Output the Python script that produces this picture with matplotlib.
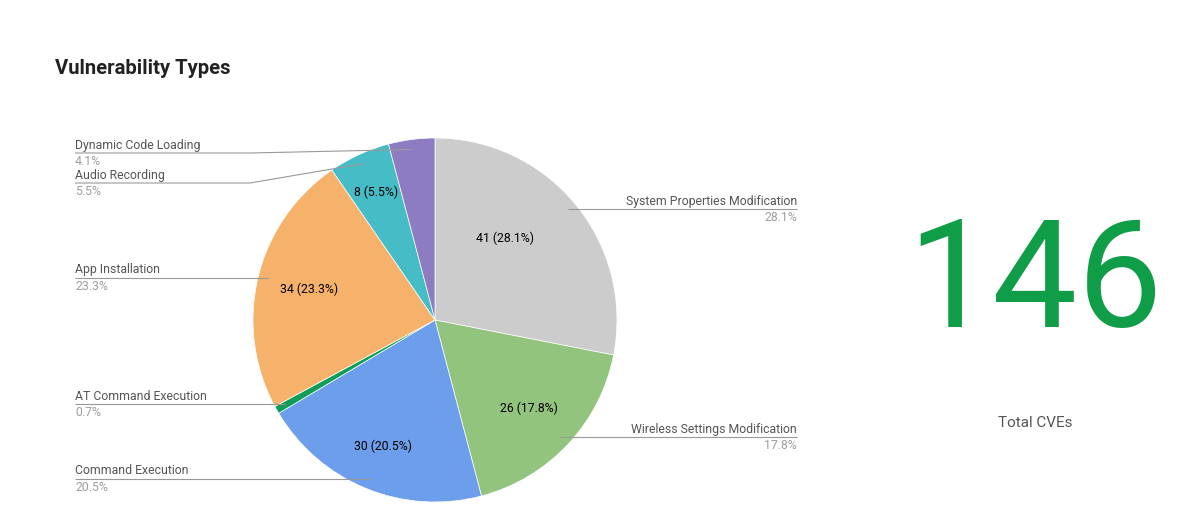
import numpy as np
import matplotlib
matplotlib.use("Agg")
from matplotlib import pyplot as plt

plt.rcParams['font.family'] = ['Roboto', 'DejaVu Sans']

# data
categories = [
    'System Properties Modification',
    'Wireless Settings Modification',
    'Command Execution',
    'AT Command Execution',
    'App Installation',
    'Audio Recording',
    'Dynamic Code Loading',
]
counts = [41, 26, 30, 1, 34, 8, 6]
colors = ['#cccccc', '#93c47d', '#6d9eeb', '#0f9d58', '#f6b26b', '#46bdc6', '#8e7cc3']
total_label = 'Total CVEs'
title = 'Vulnerability Types'

# layout (pixel coords, y from top)
W, H = 1200, 520
cx, cy, R = 435, 320, 182
label_side = ['right', 'right', 'left', 'left', 'left', 'left', 'left']
label_line_y = [209, 437, 479, 404, 278, 183, 153]
inner_frac = [0.59, 0.71, 0.75, None, 0.71, 0.77, None]
inner_shift = [9.7, 0, 0, 0, 0, 0, 0]  # degrees, counterclockwise
leader_frac = 0.945

fig = plt.figure(figsize=(W / 100, H / 100), dpi=100)
ax = fig.add_axes([0, 0, 1, 1])


def py(y):
    return H - y


total = sum(counts)
wedges, _ = ax.pie(counts, colors=colors, startangle=90, counterclock=False,
                   center=(cx, py(cy)), radius=R, frame=True,
                   wedgeprops=dict(edgecolor='white', linewidth=0.5))
ax.set_xlim(0, W)
ax.set_ylim(0, H)
ax.set_aspect('equal')
ax.axis('off')

name_color = '#555555'
pct_color = '#9e9e9e'
fs = 8.8

for w, name, n, side, ly, frac, shift in zip(wedges, categories, counts,
                                             label_side, label_line_y,
                                             inner_frac, inner_shift):
    mid = np.deg2rad((w.theta1 + w.theta2) / 2)
    pct = n / total * 100
    px = cx + leader_frac * R * np.cos(mid)
    pyy = cy - leader_frac * R * np.sin(mid)
    if side == 'right':
        xs = [px, 797]
        ys = [ly, ly]
        tx, ha = 797, 'right'
    else:
        if abs(pyy - ly) > 3:
            xs = [75, 250, px]
            ys = [ly, ly, pyy]
        else:
            xs = [75, px]
            ys = [ly, ly]
        tx, ha = 75, 'left'
    ax.plot(xs, [py(v) for v in ys], color='#999999', lw=0.8,
            solid_capstyle='butt')
    ax.text(tx, py(ly) + 1.5, name, ha=ha, va='bottom', fontsize=fs,
            color=name_color)
    ax.text(tx, py(ly) - 2, f'{pct:.1f}%', ha=ha, va='top', fontsize=fs,
            color=pct_color)
    if frac is not None:
        a = mid + np.deg2rad(shift)
        ix = cx + frac * R * np.cos(a)
        iy = cy - frac * R * np.sin(a)
        ax.text(ix, py(iy), f'{n} ({pct:.1f}%)', ha='center', va='center',
                fontsize=fs, color='#000000')

ax.text(55, py(68), title, ha='left', va='center', fontsize=14.6,
        fontweight='bold', color='#212121')

ax.text(1035, py(327), str(total), ha='center', va='baseline', fontsize=109,
        color='#0f9d48')
ax.text(1035, py(423), total_label, ha='center', va='center', fontsize=11,
        color='#555555')

fig.savefig('out.png', dpi=100, facecolor='white')
